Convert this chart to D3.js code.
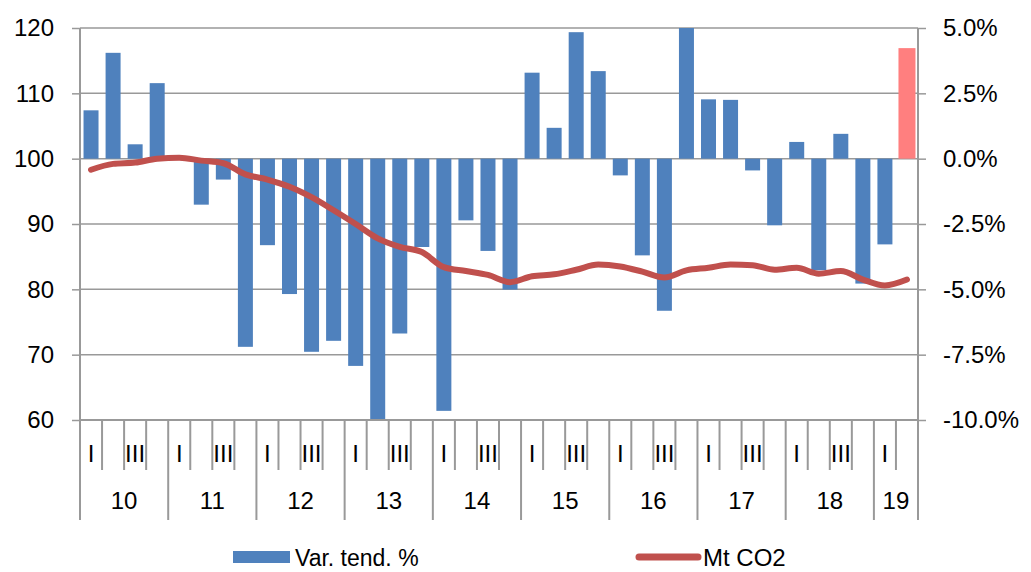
<!DOCTYPE html>
<html>
<head>
<meta charset="utf-8">
<script src="https://cdn.jsdelivr.net/npm/d3@7"></script>
<style>
  body { margin: 0; background: #fff; }
  svg text { font-family: "Liberation Sans", Arial, sans-serif; fill: #000; }
</style>
</head>
<body>
<script>
// chart data
const years = ['10', '11', '12', '13', '14', '15', '16', '17', '18', '19']
const quarters = ['I', 'II', 'III', 'IV']
// 2010 Q1 .. 2019 Q2
const categories = years.flatMap(y => quarters.map(q => y + '-' + q)).slice(0, 38)

// quarterly trend variation, % (right axis)
const varTend = [
  1.85, 4.05, 0.55, 2.89,
  0.0, -1.76, -0.80, -7.20,
  -3.31, -5.18, -7.39, -6.97,
  -7.93, -10.0, -6.69, -3.38,
  -9.65, -2.36, -3.53, -5.01,
  3.29, 1.18, 4.84, 3.35,
  -0.64, -3.70, -5.82, 5.0,
  2.27, 2.25, -0.45, -2.55,
  0.64, -4.27, 0.95, -4.78,
  -3.28, null
]
// last quarter drawn in pink
const varLast = [4.23]

// Mt CO2 (left axis)
const mtCO2 = [
  98.3, 99.2, 99.4, 100.0,
  100.15, 99.7, 99.3, 97.6,
  96.8, 95.7, 94.1, 92.1,
  90.0, 87.8, 86.5, 85.7,
  83.4, 82.8, 82.2, 81.1,
  82.0, 82.3, 83.0, 83.8,
  83.5, 82.7, 81.8, 82.9,
  83.3, 83.8, 83.7, 83.0,
  83.3, 82.4, 82.8, 81.5,
  80.6, 81.5
]

const leftTicks = [60, 70, 80, 90, 100, 110, 120]
const rightTicks = [-10, -7.5, -5, -2.5, 0, 2.5, 5]

const width = 1031, height = 572
const plot = {left: 80, right: 918, top: 28, bottom: 420}
const fontSize = 24
const gridColor = '#999'

const svg = d3.select('body').append('svg')
    .attr('width', width)
    .attr('height', height)

// scales
const xScale = d3.scaleBand()
    .domain(categories)
    .range([plot.left, plot.right])
    .paddingInner(0.32)
    .paddingOuter(0.16)
// edges between quarters
const xEdge = d3.scaleLinear()
    .domain([0, categories.length])
    .range([plot.left, plot.right])
const yLeft = d3.scaleLinear().domain([60, 120]).range([plot.bottom, plot.top])
const yRight = d3.scaleLinear().domain([-10, 5]).range([plot.bottom, plot.top])

// horizontal gridlines
svg.append('g').selectAll('line')
    .data(leftTicks.slice(1))
    .enter().append('line')
        .attr('x1', plot.left)
        .attr('x2', plot.right)
        .attr('y1', d => yLeft(d))
        .attr('y2', d => yLeft(d))
        .attr('stroke', gridColor)
        .attr('stroke-width', 1.5)

// left axis
const leftAxis = svg.append('g')
    .attr('transform', 'translate(' + plot.left + ',0)')
    .call(d3.axisLeft(yLeft).tickValues(leftTicks).tickSize(8).tickPadding(18))
leftAxis.select('.domain').remove()
leftAxis.selectAll('.tick line').attr('stroke', gridColor).attr('stroke-width', 1.5)
leftAxis.selectAll('text').style('font-size', fontSize + 'px')

// right axis
const rightAxis = svg.append('g')
    .attr('transform', 'translate(' + plot.right + ',0)')
    .call(d3.axisRight(yRight).tickValues(rightTicks).tickSize(8).tickPadding(17)
        .tickFormat(d => d.toFixed(1) + '%'))
rightAxis.select('.domain').remove()
rightAxis.selectAll('.tick line').attr('stroke', gridColor).attr('stroke-width', 1.5)
rightAxis.selectAll('text').style('font-size', fontSize + 'px')

// bars
svg.append('g').selectAll('rect')
    .data(categories.map((c, i) => ({c: c, v: varTend[i]})).filter(d => d.v != null))
    .enter().append('rect')
        .attr('x', d => xScale(d.c))
        .attr('width', xScale.bandwidth())
        .attr('y', d => yRight(Math.max(0, d.v)))
        .attr('height', d => Math.abs(yRight(d.v) - yRight(0)))
        .attr('fill', '#4F81BD')

svg.append('g').selectAll('rect')
    .data(varLast)
    .enter().append('rect')
        .attr('x', xScale(categories[categories.length - 1]) - 1)
        .attr('width', xScale.bandwidth() + 2)
        .attr('y', d => yRight(d))
        .attr('height', d => yRight(0) - yRight(d))
        .attr('fill', '#FF7F7F')

// vertical axis lines
svg.append('line')
    .attr('x1', plot.left).attr('x2', plot.left)
    .attr('y1', plot.top).attr('y2', plot.bottom + 100)
    .attr('stroke', gridColor).attr('stroke-width', 2)
svg.append('line')
    .attr('x1', plot.right).attr('x2', plot.right)
    .attr('y1', plot.top).attr('y2', plot.bottom + 100)
    .attr('stroke', gridColor).attr('stroke-width', 2)

// CO2 line
const line = d3.line()
    .x((d, i) => xScale(categories[i]) + xScale.bandwidth() / 2)
    .y(d => yLeft(d))
    .curve(d3.curveMonotoneX)
svg.append('path')
    .datum(mtCO2)
    .attr('fill', 'none')
    .attr('stroke', '#C0504D')
    .attr('stroke-width', 6)
    .attr('stroke-linejoin', 'round')
    .attr('stroke-linecap', 'round')
    .attr('d', line)

// bottom category axis
svg.append('line')
    .attr('x1', plot.left).attr('x2', plot.right)
    .attr('y1', plot.bottom).attr('y2', plot.bottom)
    .attr('stroke', gridColor).attr('stroke-width', 2)

svg.append('g').selectAll('line')
    .data(d3.range(1, categories.length))
    .enter().append('line')
        .attr('x1', d => xEdge(d))
        .attr('x2', d => xEdge(d))
        .attr('y1', plot.bottom)
        .attr('y2', d => plot.bottom + (d % 4 == 0 ? 100 : 50))
        .attr('stroke', gridColor)
        .attr('stroke-width', 2)

// quarter labels, every other one like the original
svg.append('g').selectAll('text')
    .data(categories.map((c, i) => i).filter(i => i % 2 == 0))
    .enter().append('text')
        .attr('x', i => xScale(categories[i]) + xScale.bandwidth() / 2)
        .attr('y', plot.bottom + 42)
        .attr('text-anchor', 'middle')
        .style('font-size', fontSize + 'px')
        .text(i => quarters[i % 4])

// year labels
svg.append('g').selectAll('text')
    .data(years)
    .enter().append('text')
        .attr('x', (d, i) => (xEdge(i * 4) + xEdge(Math.min(i * 4 + 4, categories.length))) / 2)
        .attr('y', plot.bottom + 89)
        .attr('text-anchor', 'middle')
        .style('font-size', fontSize + 'px')
        .text(d => d)

// legend
const legend = svg.append('g')
legend.append('rect')
    .attr('x', 233).attr('y', 551)
    .attr('width', 57).attr('height', 12)
    .attr('fill', '#4F81BD')
legend.append('text')
    .attr('x', 295).attr('y', 566)
    .style('font-size', '23px')
    .text('Var. tend. %')
legend.append('line')
    .attr('x1', 639).attr('x2', 698)
    .attr('y1', 557).attr('y2', 557)
    .attr('stroke', '#C0504D')
    .attr('stroke-width', 7)
    .attr('stroke-linecap', 'round')
legend.append('text')
    .attr('x', 703).attr('y', 566)
    .style('font-size', '24px')
    .text('Mt CO2')
</script>
</body>
</html>
